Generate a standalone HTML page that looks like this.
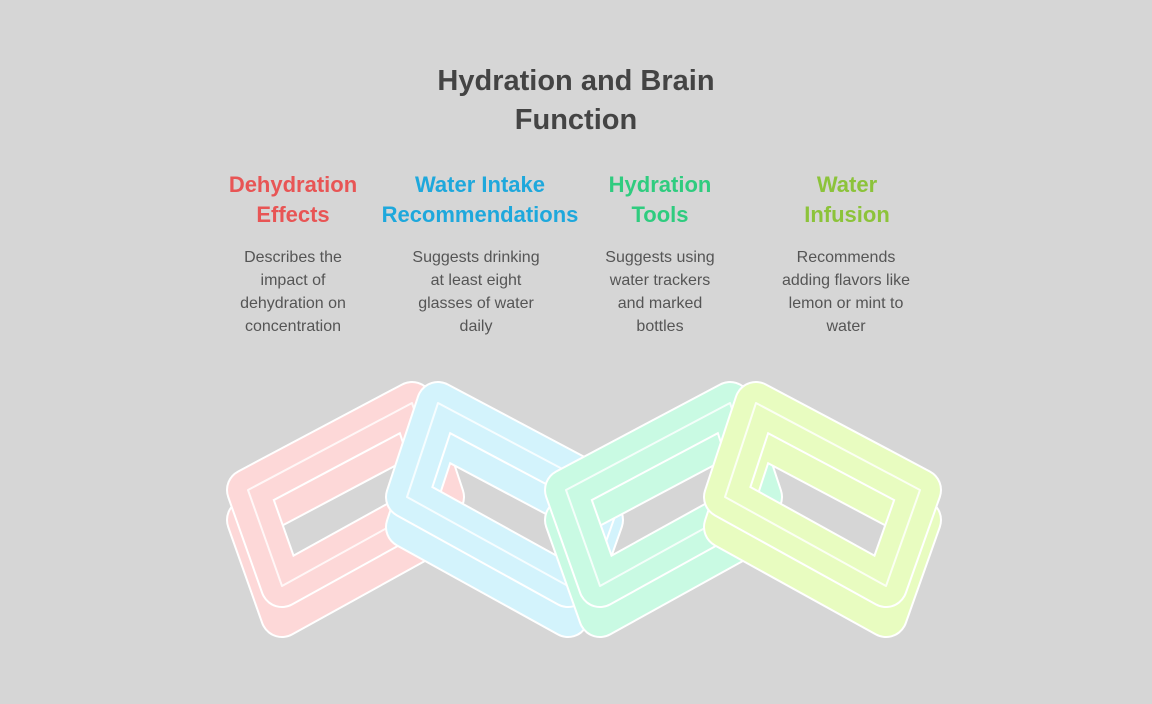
<!DOCTYPE html>
<html><head><meta charset="utf-8"><style>
body{margin:0;width:1152px;height:704px;background:#d6d6d6;overflow:hidden;font-family:"Liberation Sans",sans-serif}
.t{position:absolute;text-align:center;white-space:nowrap}
.title{left:376px;width:400px;top:62px;font-size:29px;font-weight:bold;color:#444;line-height:39px}
.h{top:170px;font-size:22px;font-weight:bold;line-height:30px;width:220px}
.b{top:246px;font-size:16px;color:#555;line-height:23px;width:200px}
</style></head><body>
<svg width="1152" height="704" style="position:absolute;left:0;top:0">
<!-- red -->
<g>
<polygon points="248,490 412,403 443,497 282,586" transform="translate(0,30)" fill="none" stroke="#fff" stroke-width="44" stroke-linejoin="round"/>
<polygon points="248,490 412,403 443,497 282,586" transform="translate(0,30)" fill="none" stroke="#fdd8d8" stroke-width="40" stroke-linejoin="round"/>
<polygon points="248,490 412,403 443,497 282,586" fill="none" stroke="#fff" stroke-width="44" stroke-linejoin="round"/>
<polygon points="248,490 412,403 443,497 282,586" fill="none" stroke="#fdd8d8" stroke-width="40" stroke-linejoin="round"/>
<polygon points="248,490 412,403 443,497 282,586" fill="none" stroke="#fff" stroke-width="2" stroke-linejoin="round" opacity="0.8"/>
</g>
<!-- blue -->
<g>
<polygon points="602,490 438,403 407,497 568,586" transform="translate(0,30)" fill="none" stroke="#fff" stroke-width="44" stroke-linejoin="round"/>
<polygon points="602,490 438,403 407,497 568,586" transform="translate(0,30)" fill="none" stroke="#d3f3fc" stroke-width="40" stroke-linejoin="round"/>
<polygon points="602,490 438,403 407,497 568,586" fill="none" stroke="#fff" stroke-width="44" stroke-linejoin="round"/>
<polygon points="602,490 438,403 407,497 568,586" fill="none" stroke="#d3f3fc" stroke-width="40" stroke-linejoin="round"/>
<polygon points="602,490 438,403 407,497 568,586" fill="none" stroke="#fff" stroke-width="2" stroke-linejoin="round" opacity="0.8"/>
</g>
<!-- green -->
<g transform="translate(318,0)">
<polygon points="248,490 412,403 443,497 282,586" transform="translate(0,30)" fill="none" stroke="#fff" stroke-width="44" stroke-linejoin="round"/>
<polygon points="248,490 412,403 443,497 282,586" transform="translate(0,30)" fill="none" stroke="#c9fae3" stroke-width="40" stroke-linejoin="round"/>
<polygon points="248,490 412,403 443,497 282,586" fill="none" stroke="#fff" stroke-width="44" stroke-linejoin="round"/>
<polygon points="248,490 412,403 443,497 282,586" fill="none" stroke="#c9fae3" stroke-width="40" stroke-linejoin="round"/>
<polygon points="248,490 412,403 443,497 282,586" fill="none" stroke="#fff" stroke-width="2" stroke-linejoin="round" opacity="0.8"/>
</g>
<!-- yellow -->
<g transform="translate(318,0)">
<polygon points="602,490 438,403 407,497 568,586" transform="translate(0,30)" fill="none" stroke="#fff" stroke-width="44" stroke-linejoin="round"/>
<polygon points="602,490 438,403 407,497 568,586" transform="translate(0,30)" fill="none" stroke="#e8fcc0" stroke-width="40" stroke-linejoin="round"/>
<polygon points="602,490 438,403 407,497 568,586" fill="none" stroke="#fff" stroke-width="44" stroke-linejoin="round"/>
<polygon points="602,490 438,403 407,497 568,586" fill="none" stroke="#e8fcc0" stroke-width="40" stroke-linejoin="round"/>
<polygon points="602,490 438,403 407,497 568,586" fill="none" stroke="#fff" stroke-width="2" stroke-linejoin="round" opacity="0.8"/>
</g>
</svg>
<div class="t title">Hydration and Brain<br>Function</div>
<div class="t h" style="left:183px;color:#e85555">Dehydration<br>Effects</div>
<div class="t h" style="left:370px;color:#1ea8dc">Water Intake<br>Recommendations</div>
<div class="t h" style="left:550px;color:#2fcc7f">Hydration<br>Tools</div>
<div class="t h" style="left:737px;color:#8cc33a">Water<br>Infusion</div>
<div class="t b" style="left:193px">Describes the<br>impact of<br>dehydration on<br>concentration</div>
<div class="t b" style="left:376px">Suggests drinking<br>at least eight<br>glasses of water<br>daily</div>
<div class="t b" style="left:560px">Suggests using<br>water trackers<br>and marked<br>bottles</div>
<div class="t b" style="left:746px">Recommends<br>adding flavors like<br>lemon or mint to<br>water</div>
</body></html>
